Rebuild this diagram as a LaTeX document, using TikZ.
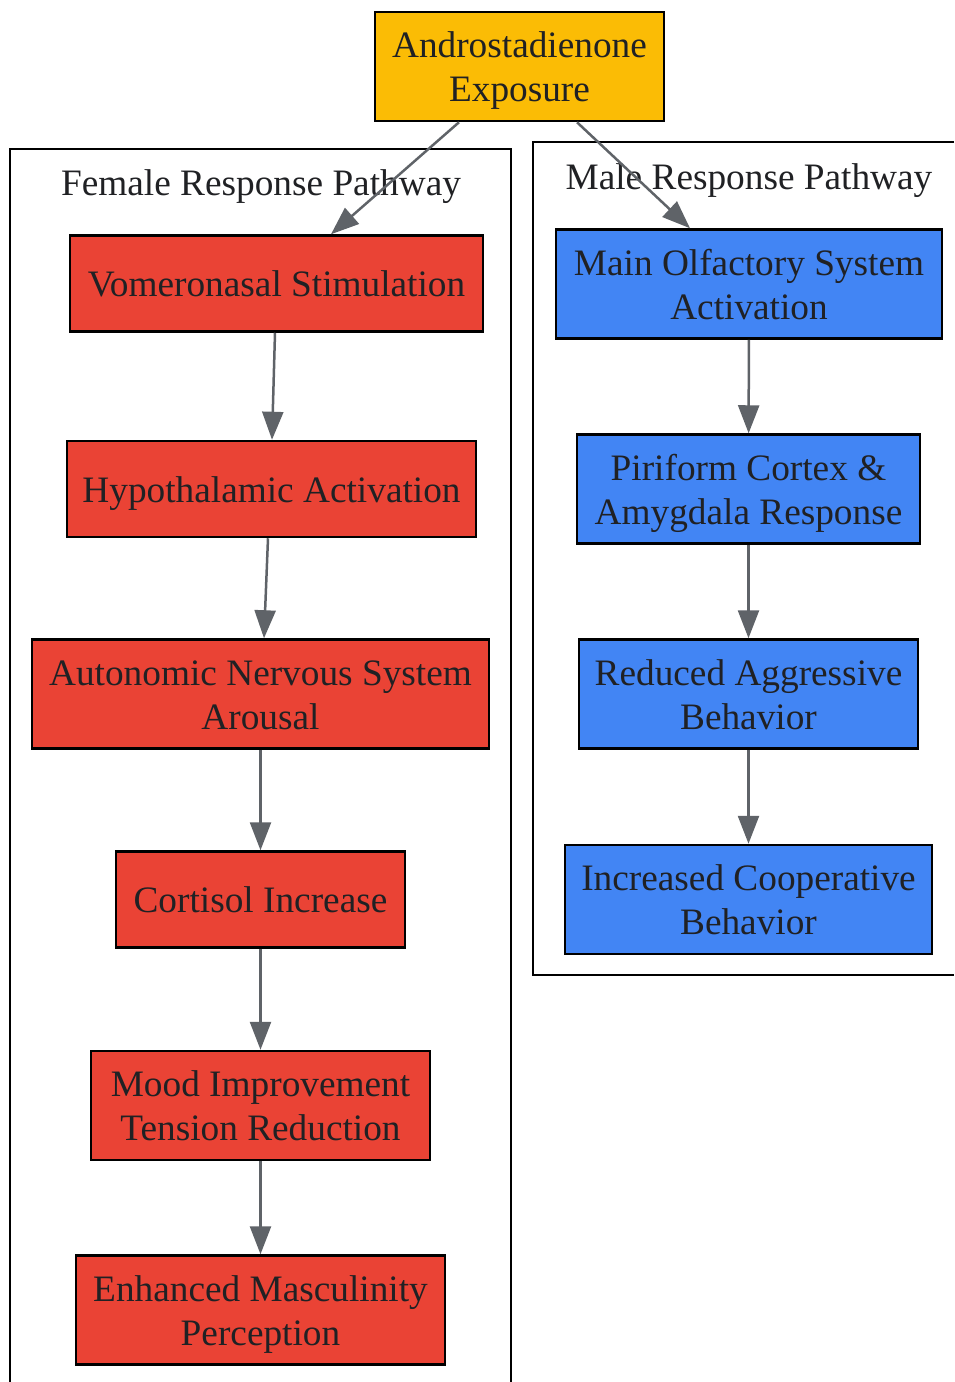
\documentclass[tikz,border=0pt]{standalone}
\usepackage{fontspec}
\setmainfont{Liberation Serif}
\usetikzlibrary{arrows.meta}

\definecolor{expocol}{HTML}{FBBC05}
\definecolor{femcol}{HTML}{EA4335}
\definecolor{malecol}{HTML}{4285F4}
\definecolor{edgecol}{HTML}{5F6368}
\definecolor{txtcol}{HTML}{202124}

\tikzset{
  box/.style={draw=black, line width=2.5pt, align=center, text=txtcol,
    inner sep=0pt, minimum height=96pt, font=\fontsize{37.3}{44}\selectfont,
    text height=35pt, text depth=9pt},
  tallbox/.style={box, minimum height=109pt, text height=79pt},
  flow/.style={draw=edgecol, line width=2.5pt, -{Triangle[length=28pt,width=21pt]}},
  cluster/.style={draw=black, line width=2pt},
  clusterlabel/.style={anchor=base, text=txtcol, inner sep=0pt, font=\fontsize{37.3}{44}\selectfont},
}

\begin{document}
\begin{tikzpicture}[x=1pt, y=-1pt]
  \useasboundingbox (0,0) rectangle (954,1382);

  % clusters
  \draw[cluster] (10,1382) -- (10,149) -- (511,149) -- (511,1382);
  \draw[cluster] (954,142) -- (533,142) -- (533,975) -- (954,975);
  \node[clusterlabel] (femlabel) at (261,195) {Female Response Pathway};
  \node[clusterlabel] (malelabel) at (749,189) {Male Response Pathway};

  \node[tallbox, fill=expocol, minimum width=289pt] (expo) at (519.5,66.5) {Androstadienone\\Exposure};

  % female pathway
  \node[box, fill=femcol, minimum width=413pt] (vomero) at (276.5,283.5) {Vomeronasal Stimulation};
  \node[box, fill=femcol, minimum width=409pt] (hypo) at (271.5,489) {Hypothalamic Activation};
  \node[tallbox, fill=femcol, minimum width=457pt] (auto) at (260.5,694) {Autonomic Nervous System\\Arousal};
  \node[box, fill=femcol, minimum width=289pt] (cortisol) at (260.5,899.5) {Cortisol Increase};
  \node[tallbox, fill=femcol, minimum width=339pt] (mood) at (260.5,1105.5) {Mood Improvement\\Tension Reduction};
  \node[tallbox, fill=femcol, minimum width=369pt] (mascul) at (260.5,1310) {Enhanced Masculinity\\Perception};

  % male pathway
  \node[tallbox, fill=malecol, minimum width=386pt] (olfact) at (749,284) {Main Olfactory System\\Activation};
  \node[tallbox, fill=malecol, minimum width=343pt] (piri) at (748.5,489) {Piriform Cortex \&\\Amygdala Response};
  \node[tallbox, fill=malecol, minimum width=339pt] (aggr) at (748.5,694) {Reduced Aggressive\\Behavior};
  \node[tallbox, fill=malecol, minimum width=367pt] (coop) at (748.5,899.5) {Increased Cooperative\\Behavior};

  \draw[flow] ([xshift=-60.5pt]expo.south) -- ([xshift=54.5pt]vomero.north);
  \draw[flow] ([xshift=57.5pt]expo.south) -- ([xshift=-59pt]olfact.north);

  \draw[flow] ([xshift=-1.5pt]vomero.south) -- ([xshift=0.5pt]hypo.north);
  \draw[flow] ([xshift=-3.5pt]hypo.south) -- ([xshift=3.5pt]auto.north);
  \draw[flow] (auto) -- (cortisol);
  \draw[flow] (cortisol) -- (mood);
  \draw[flow] (mood) -- (mascul);

  \draw[flow] (olfact) -- (piri);
  \draw[flow] (piri) -- (aggr);
  \draw[flow] (aggr) -- (coop);
\end{tikzpicture}
\end{document}
